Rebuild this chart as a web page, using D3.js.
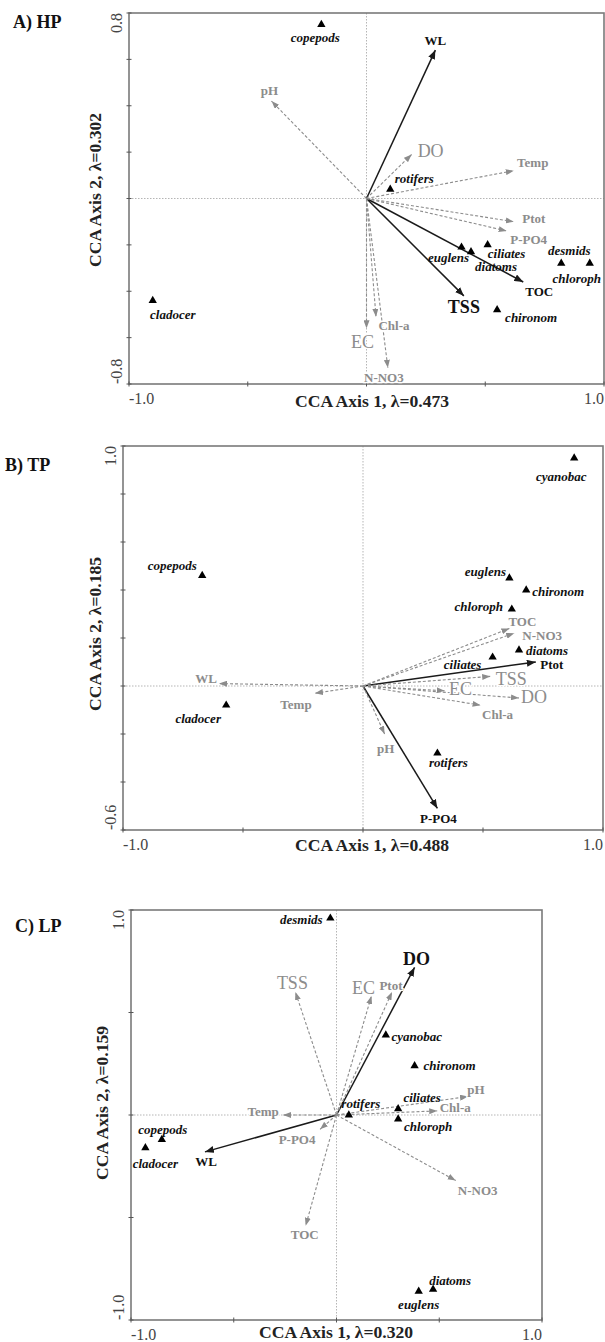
<!DOCTYPE html>
<html><head><meta charset="utf-8">
<script src="https://cdn.jsdelivr.net/npm/d3@7"></script>
<style>
body{margin:0;background:#fff;}
svg text{font-family:"Liberation Serif","Times New Roman",serif;}
</style></head><body>
<script>
// CCA biplots for the three ponds (HP, TP, LP)

const panelNames = ["A) HP", "B) TP", "C) LP"];
const lambda1 = ["0.473", "0.488", "0.320"];
const lambda2 = ["0.302", "0.185", "0.159"];
const xDomains = [[-1, 1], [-1, 1], [-1, 1]];
const yDomains = [[-0.8, 0.8], [-0.6, 1.0], [-1, 1]];
const xTickLabels = [["-1.0", "1.0"], ["-1.0", "1.0"], ["-1.0", "1.0"]];
const yTickLabels = [["-0.8", "0.8"], ["-0.6", "1.0"], ["-1.0", "1.0"]];
const xTickStep = [0.5, 0.5, 0.5];
const yTickStep = [0.2, 0.2, 0.5];

// A) HP
const hpSpecies = ["copepods","cladocer","rotifers","euglens","diatoms","ciliates","desmids","chloroph","chironom"];
const hpSpX = [-0.19, -0.90, 0.10, 0.40, 0.44, 0.51, 0.82, 0.94, 0.55];
const hpSpY = [0.75, -0.44, 0.04, -0.21, -0.23, -0.20, -0.28, -0.28, -0.48];
const hpEnv = ["WL","TOC","TSS","pH","DO","Temp","Ptot","P-PO4","Chl-a","EC","N-NO3"];
const hpEnvX = [0.29, 0.66, 0.41, -0.40, 0.19, 0.62, 0.62, 0.59, 0.04, 0.00, 0.09];
const hpEnvY = [0.64, -0.36, -0.42, 0.42, 0.19, 0.12, -0.10, -0.14, -0.51, -0.56, -0.73];
const hpSig = ["WL","TOC","TSS"];

// B) TP
const tpSpecies = ["cyanobac","copepods","cladocer","euglens","chironom","chloroph","diatoms","ciliates","rotifers"];
const tpSpX = [0.88, -0.67, -0.57, 0.61, 0.68, 0.62, 0.65, 0.54, 0.31];
const tpSpY = [0.95, 0.46, -0.08, 0.45, 0.40, 0.32, 0.15, 0.12, -0.28];
const tpEnv = ["Ptot","P-PO4","TOC","N-NO3","TSS","EC","DO","Chl-a","WL","Temp","pH"];
const tpEnvX = [0.72, 0.31, 0.61, 0.63, 0.53, 0.34, 0.65, 0.49, -0.60, -0.20, 0.09];
const tpEnvY = [0.10, -0.51, 0.24, 0.22, 0.04, -0.02, -0.05, -0.08, 0.01, -0.03, -0.20];
const tpSig = ["Ptot","P-PO4"];

// C) LP
const lpSpecies = ["desmids","cyanobac","chironom","ciliates","chloroph","rotifers","copepods","cladocer","diatoms","euglens"];
const lpSpX = [-0.03, 0.24, 0.38, 0.30, 0.30, 0.06, -0.85, -0.93, 0.47, 0.40];
const lpSpY = [0.96, 0.39, 0.24, 0.03, -0.02, 0.00, -0.12, -0.16, -0.85, -0.86];
const lpEnv = ["DO","WL","TSS","EC","Ptot","pH","Chl-a","N-NO3","TOC","Temp","P-PO4"];
const lpEnvX = [0.38, -0.64, -0.20, 0.17, 0.27, 0.64, 0.49, 0.58, -0.15, -0.26, -0.08];
const lpEnvY = [0.72, -0.18, 0.60, 0.58, 0.60, 0.09, 0.02, -0.32, -0.54, 0.00, -0.07];
const lpSig = ["DO","WL"];

// label placement (pixel offsets from the mark, centre of text)
const hpSpLab = [[-6,13],[20,14],[24,-11],[-13,10],[25,14.5],[19,8.5],[8,-13],[-13,15],[34,8]];
const hpEnvLab = [[0,-10],[16,9],[0,11],[-2,-11],[19,-4],[19,-8],[20,-3],[22,8],[18,9],[-4,13],[-4,10]];
const tpSpLab = [[-13,18],[-30,-10],[-28,13],[-24,-7],[32,1],[-33,-3],[28,0.5],[-30,7],[11,9]];
const tpEnvLab = [[16,2.5],[1,10],[13,-6.5],[28,2.5],[21,2],[16,-2],[15,-1],[17,9],[-13,-5],[-19,11],[1,14]];
const lpSpLab = [[-29,1],[31,1],[35,0],[24,-11],[30,7],[12,-12],[1,-10],[10,16],[17,-9],[0,13]];
const lpEnvLab = [[2,-9],[1,10],[-3,-9],[-8,-8],[-1,-7],[8,-7],[18,-3],[22,10],[-1,9],[-20,-4],[-23,10]];

const bigNames = ["TSS","EC","DO"];

const layout = [
  {left:129, right:604, top:13,  bottom:384,  titleX:13, titleY:28,  yTitleX:95,  yTitleY:190,  xTitleX:372, xTitleDy:23},
  {left:123, right:603, top:446, bottom:830,  titleX:5,  titleY:471, yTitleX:95,  yTitleY:634,  xTitleX:372, xTitleDy:21},
  {left:131, right:542, top:910, bottom:1320, titleX:15, titleY:932, yTitleX:102, yTitleY:1103, xTitleX:336, xTitleDy:18}
];

const panelData = [
  {sp:hpSpecies, spX:hpSpX, spY:hpSpY, env:hpEnv, envX:hpEnvX, envY:hpEnvY, sig:hpSig, spLab:hpSpLab, envLab:hpEnvLab},
  {sp:tpSpecies, spX:tpSpX, spY:tpSpY, env:tpEnv, envX:tpEnvX, envY:tpEnvY, sig:tpSig, spLab:tpSpLab, envLab:tpEnvLab},
  {sp:lpSpecies, spX:lpSpX, spY:lpSpY, env:lpEnv, envX:lpEnvX, envY:lpEnvY, sig:lpSig, spLab:lpSpLab, envLab:lpEnvLab}
];

const svg = d3.select("body").append("svg")
    .attr("width", 605)
    .attr("height", 1342);

const defs = svg.append("defs");
[["headBlack", "#1a1a1a", 9, 3.6], ["headGray", "#8c8c8c", 8, 3]].forEach(([id, col, len, hw]) => {
  defs.append("marker")
      .attr("id", id)
      .attr("markerUnits", "userSpaceOnUse")
      .attr("viewBox", `0 ${-hw} ${len} ${hw * 2}`)
      .attr("refX", len).attr("refY", 0)
      .attr("markerWidth", len).attr("markerHeight", hw * 2)
      .attr("orient", "auto")
    .append("path")
      .attr("d", `M0,${-hw}L${len},0L0,${hw}Z`)
      .attr("fill", col);
});

const tri = d3.symbol(d3.symbolTriangle).size(30);

panelData.forEach((d, i) => {
  const L = layout[i];
  const x = d3.scaleLinear().domain(xDomains[i]).range([L.left, L.right]);
  const y = d3.scaleLinear().domain(yDomains[i]).range([L.bottom, L.top]);
  const g = svg.append("g");

  // zero lines
  g.append("line")
      .attr("x1", x(0)).attr("x2", x(0)).attr("y1", L.top).attr("y2", L.bottom)
      .attr("stroke", "#b5b5b5").attr("stroke-dasharray", "1.5,1.5");
  g.append("line")
      .attr("x1", L.left).attr("x2", L.right).attr("y1", y(0)).attr("y2", y(0))
      .attr("stroke", "#b5b5b5").attr("stroke-dasharray", "1.5,1.5");

  // frame
  g.append("rect")
      .attr("x", L.left).attr("y", L.top)
      .attr("width", L.right - L.left).attr("height", L.bottom - L.top)
      .attr("fill", "none").attr("stroke", "#7a7a7a").attr("stroke-width", 1.6);

  // tick marks
  const xt = d3.range(xDomains[i][0], xDomains[i][1] + 1e-9, xTickStep[i]);
  const yt = d3.range(yDomains[i][0], yDomains[i][1] + 1e-9, yTickStep[i]);
  g.selectAll(".xt").data(xt).join("line")
      .attr("x1", v => x(v)).attr("x2", v => x(v))
      .attr("y1", L.bottom - 2.5).attr("y2", L.bottom + 2.5)
      .attr("stroke", "#555").attr("stroke-width", 1);
  g.selectAll(".yt").data(yt).join("line")
      .attr("y1", v => y(v)).attr("y2", v => y(v))
      .attr("x1", L.left - 2.5).attr("x2", L.left + 2.5)
      .attr("stroke", "#555").attr("stroke-width", 1);

  // tick labels (ends only)
  g.append("text").attr("x", L.left).attr("y", L.bottom + 20)
      .attr("font-size", 16).attr("fill", "#444").text(xTickLabels[i][0]);
  g.append("text").attr("x", L.right).attr("y", L.bottom + 20)
      .attr("text-anchor", "end").attr("font-size", 16).attr("fill", "#444").text(xTickLabels[i][1]);
  g.append("text").attr("transform", `translate(${L.left - 7},${L.bottom}) rotate(-90)`)
      .attr("font-size", 16).attr("fill", "#444").text(yTickLabels[i][0]);
  g.append("text").attr("transform", `translate(${L.left - 7},${L.top}) rotate(-90)`)
      .attr("text-anchor", "end").attr("font-size", 16).attr("fill", "#444").text(yTickLabels[i][1]);

  // axis titles and panel name
  g.append("text").attr("x", L.xTitleX).attr("y", L.bottom + L.xTitleDy)
      .attr("text-anchor", "middle").attr("font-size", 17.6).attr("font-weight", "bold")
      .attr("fill", "#222").text(`CCA Axis 1, \u03bb=${lambda1[i]}`);
  g.append("text").attr("transform", `translate(${L.yTitleX + 6},${L.yTitleY}) rotate(-90)`)
      .attr("text-anchor", "middle").attr("font-size", 17.6).attr("font-weight", "bold")
      .attr("fill", "#222").text(`CCA Axis 2, \u03bb=${lambda2[i]}`);
  g.append("text").attr("x", L.titleX).attr("y", L.titleY)
      .attr("font-size", 18).attr("font-weight", "bold").attr("fill", "#111")
      .text(panelNames[i]);

  // environmental arrows
  const env = d.env.map((n, k) => ({name: n, vx: d.envX[k], vy: d.envY[k], off: d.envLab[k], sig: d.sig.includes(n)}));
  g.selectAll(".arr").data(env).join("line")
      .attr("x1", x(0)).attr("y1", y(0))
      .attr("x2", e => x(e.vx)).attr("y2", e => y(e.vy))
      .attr("stroke", e => e.sig ? "#1a1a1a" : "#8c8c8c")
      .attr("stroke-width", e => e.sig ? 1.5 : 1.1)
      .attr("stroke-dasharray", e => e.sig ? null : "3,2")
      .attr("marker-end", e => e.sig ? "url(#headBlack)" : "url(#headGray)");
  g.selectAll(".envlab").data(env).join("text")
      .attr("x", e => x(e.vx) + e.off[0]).attr("y", e => y(e.vy) + e.off[1])
      .attr("dy", "0.35em").attr("text-anchor", "middle")
      .attr("font-size", e => bigNames.includes(e.name) ? 18 : 13)
      .attr("font-weight", e => (e.sig || !bigNames.includes(e.name)) ? "bold" : "normal")
      .attr("fill", e => e.sig ? "#111" : "#8c8c8c")
      .attr("stroke", "#fff").attr("stroke-width", 2.5).attr("paint-order", "stroke")
      .text(e => e.name);

  // species
  const sp = d.sp.map((n, k) => ({name: n, vx: d.spX[k], vy: d.spY[k], off: d.spLab[k]}));
  g.selectAll(".sp").data(sp).join("path")
      .attr("d", tri)
      .attr("transform", s => `translate(${x(s.vx)},${y(s.vy)})`)
      .attr("fill", "#000");
  g.selectAll(".splab").data(sp).join("text")
      .attr("x", s => x(s.vx) + s.off[0]).attr("y", s => y(s.vy) + s.off[1])
      .attr("dy", "0.35em").attr("text-anchor", "middle")
      .attr("font-size", 13).attr("font-weight", "bold").attr("font-style", "italic")
      .attr("fill", "#111")
      .text(s => s.name);
});
</script>
</body></html>
